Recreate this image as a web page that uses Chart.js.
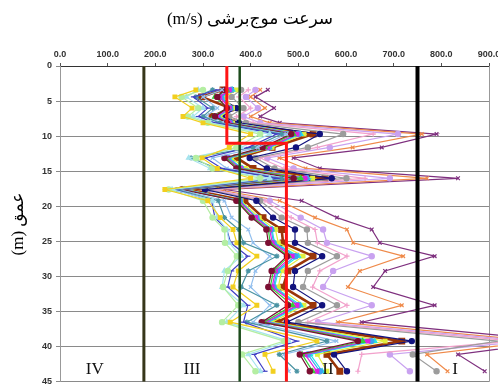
<!DOCTYPE html>
<html>
<head>
<meta charset="utf-8">
<script src="https://cdn.jsdelivr.net/npm/chart.js@4"></script>
<style>
  html, body { margin: 0; padding: 0; background: #fff; }
</style>
</head>
<body>
<canvas id="vsChart" width="498" height="387"></canvas>
<script>
// titles (Persian)
const xTitle = "سرعت موج\u200cبرشی (m/s)";
const yTitle = "عمق (m)";

// depth of every measured point (m)
const depths = [3.4, 4.4, 6.0, 7.2, 8.1, 9.7, 11.6, 13.1, 14.6, 16.0, 17.6, 19.2, 21.6, 23.3, 25.2, 27.1, 29.2, 31.5, 34.1, 36.5, 39.2, 41.1, 43.5];

// shear wave velocity of each borehole (m/s), one value per depth
const vsYellow   = [285, 241, 277, 258, 300, 400, 355, 298, 330, 400, 220, 310, 336, 363, 371, 413, 374, 363, 413, 357, 539, 430, 447];
const vsLgreen   = [300, 255, 290, 268, 310, 420, 370, 285, 320, 420, 228, 300, 320, 345, 346, 371, 352, 342, 374, 340, 470, 382, 410];
const vsLcyan    = [290, 265, 300, 279, 315, 440, 380, 270, 315, 440, 235, 320, 330, 350, 355, 380, 345, 340, 385, 350, 480, 395, 420];
const vsBlue     = [330, 280, 310, 290, 325, 455, 395, 305, 340, 455, 240, 318, 325, 350, 358, 394, 360, 352, 394, 385, 497, 407, 430];
const vsTeal     = [320, 285, 320, 300, 335, 465, 405, 275, 330, 465, 245, 332, 345, 375, 385, 455, 395, 380, 455, 392, 560, 460, 497];
const vsLblue    = [340, 300, 330, 305, 340, 475, 415, 320, 350, 475, 250, 345, 360, 395, 405, 440, 410, 400, 440, 405, 580, 470, 480];
const vsDred     = [345, 330, 350, 325, 350, 485, 425, 345, 370, 490, 255, 370, 402, 433, 437, 476, 444, 437, 478, 423, 625, 503, 524];
const vsGreen    = [350, 325, 352, 322, 352, 490, 430, 348, 374, 505, 256, 372, 405, 437, 441, 480, 448, 441, 488, 428, 635, 508, 530];
const vsMagenta  = [355, 335, 355, 328, 355, 497, 435, 350, 378, 514, 258, 375, 410, 440, 445, 487, 452, 445, 497, 432, 646, 514, 539];
const vsSky      = [358, 338, 357, 330, 357, 500, 438, 352, 380, 517, 260, 377, 412, 443, 448, 494, 455, 448, 500, 435, 653, 520, 545];
const vsCyan     = [362, 340, 358, 332, 358, 505, 440, 355, 382, 520, 262, 378, 413, 445, 450, 500, 458, 450, 505, 438, 660, 525, 550];
const vsYgreen   = [370, 345, 362, 336, 362, 512, 445, 360, 390, 530, 265, 380, 418, 452, 458, 510, 465, 458, 512, 445, 682, 540, 560];
const vsBrown    = [342, 297, 357, 319, 361, 531, 445, 371, 405, 556, 272, 388, 426, 465, 468, 531, 478, 468, 531, 455, 717, 560, 587];
const vsNavy     = [360, 335, 370, 340, 375, 545, 495, 398, 434, 570, 304, 412, 447, 493, 493, 550, 493, 489, 550, 476, 738, 575, 602];
const vsGray     = [380, 360, 385, 355, 390, 594, 520, 410, 450, 601, 310, 420, 465, 518, 520, 581, 520, 510, 581, 500, 920, 740, 790];
const vsPink     = [395, 375, 400, 370, 405, 657, 540, 420, 470, 640, 315, 430, 485, 535, 540, 602, 545, 530, 602, 520, 950, 633, 625];
const vsLavender = [410, 390, 415, 385, 420, 709, 566, 435, 490, 692, 320, 440, 505, 552, 560, 654, 573, 552, 654, 541, 980, 692, 734];
const vsOrange   = [420, 400, 430, 400, 440, 759, 614, 460, 515, 770, 330, 461, 535, 602, 615, 720, 629, 604, 717, 583, 1000, 770, 813];
const vsPurple   = [436, 410, 449, 420, 461, 790, 675, 490, 545, 835, 345, 507, 581, 654, 671, 786, 682, 657, 786, 633, 1050, 835, 891];

// site class boundaries (m/s)
const boundaryIV  = 176;
const boundaryIII = 377;
const boundaryII  = 750;
// mean profile (red step line)
const meanVs    = [350, 350, 475, 475];
const meanDepth = [0, 11, 11, 45];

// zone labels
const zoneLabels = ["IV", "III", "II", "I"];
const zoneVs     = [73, 277, 562, 829];
const zoneDepth  = 43.2;

// series look: [values, colour, marker]
const profiles = [
    [vsYellow, "#f2cf1e", "rect"],
    [vsLgreen, "#b4eea2", "circle"],
    [vsLcyan, "#a6e4ee", "triangle"],
    [vsBlue, "#4040c4", "line"],
    [vsTeal, "#4a93a3", "star"],
    [vsLblue, "#92bfee", "crossRot"],
    [vsDred, "#7c0f33", "circle"],
    [vsGreen, "#34cc3a", "triangle"],
    [vsMagenta, "#e01ee0", "rect"],
    [vsSky, "#3ea2f2", "circle"],
    [vsCyan, "#22e4e4", "triangle"],
    [vsYgreen, "#e2ee3e", "rect"],
    [vsNavy, "#13137e", "circle"],
    [vsGray, "#9c9c9c", "circle"],
    [vsPink, "#f2a2cc", "cross"],
    [vsLavender, "#c9a2f0", "circle"],
    [vsOrange, "#ef8a4a", "crossRot"],
    [vsPurple, "#7e2f7e", "crossRot"],
    [vsBrown, "#9a3508", "rect"]
];

const toPoints = (xs, ys) => xs.map((v, i) => ({ x: v, y: ys[i] }));
const vertical = (v) => [{ x: v, y: 0 }, { x: v, y: 45 }];

const datasets = [];

// boundaries go first so they sit on top
datasets.push({ data: toPoints(meanVs, meanDepth), borderColor: "#ff1414", borderWidth: 3, pointRadius: 0 });
datasets.push({ data: vertical(boundaryII), borderColor: "#000000", borderWidth: 4, pointRadius: 0 });
datasets.push({ data: vertical(boundaryIII), borderColor: "#1c4c1c", borderWidth: 2.5, pointRadius: 0 });
datasets.push({ data: vertical(boundaryIV), borderColor: "#36361a", borderWidth: 3, pointRadius: 0 });

profiles.forEach(p => {
    const isBrown = p[0] === vsBrown;
    datasets.push({
        data: toPoints(p[0], depths),
        borderColor: p[1],
        backgroundColor: p[1],
        borderWidth: isBrown ? 2.6 : 1.2,
        pointStyle: p[2],
        pointRadius: isBrown ? 4 : 2.6,
        pointBorderWidth: 1.2,
        clip: false
    });
});

// extra texts: titles, zone numbers and right frame
const textPlugin = {
    id: "texts",
    beforeDatasetsDraw(chart) {
        const ctx = chart.ctx;
        const a = chart.chartArea;
        ctx.save();
        ctx.strokeStyle = "#999";
        ctx.lineWidth = 1;
        ctx.beginPath();
        ctx.moveTo(a.right + 0.5, a.top);
        ctx.lineTo(a.right + 0.5, a.bottom);
        ctx.stroke();
        ctx.restore();
    },
    afterDatasetsDraw(chart) {
        const ctx = chart.ctx;
        const xs = chart.scales.x;
        const ys = chart.scales.y;
        ctx.save();
        ctx.fillStyle = "#111";
        ctx.textAlign = "center";
        ctx.textBaseline = "middle";
        ctx.font = "17px 'Liberation Serif', serif";
        zoneLabels.forEach((t, i) => {
            ctx.fillText(t, xs.getPixelForValue(zoneVs[i]), ys.getPixelForValue(zoneDepth));
        });
        ctx.fillStyle = "#000";
        ctx.direction = "rtl";
        ctx.font = "17px 'Liberation Serif', 'DejaVu Sans', serif";
        ctx.fillText(xTitle, 250, 20);
        ctx.translate(19, 224);
        ctx.rotate(-Math.PI / 2);
        ctx.fillText(yTitle, 0, 0);
        ctx.restore();
    }
};

const tickFont = { family: "'Liberation Sans', Arial, sans-serif", size: 9, weight: "bold" };

new Chart(document.getElementById("vsChart"), {
    type: "scatter",
    data: { datasets: datasets },
    options: {
        responsive: false,
        animation: false,
        showLine: true,
        layout: { padding: { left: 0, right: 9, top: 0, bottom: 4 } },
        plugins: {
            legend: { display: false },
            tooltip: { enabled: false }
        },
        elements: { line: { tension: 0 } },
        scales: {
            x: {
                type: "linear",
                position: "top",
                min: 0,
                max: 900,
                ticks: {
                    stepSize: 100,
                    padding: 3,
                    color: "#333",
                    font: tickFont,
                    maxRotation: 0,
                    callback: v => v.toFixed(1)
                },
                grid: { drawOnChartArea: false, tickLength: 3, color: "#555" },
                border: { color: "#333", width: 1 },
                afterFit: s => { s.height = 66; s.paddingLeft = 0; s.paddingRight = 0; }
            },
            y: {
                type: "linear",
                reverse: true,
                min: 0,
                max: 45,
                ticks: {
                    stepSize: 5,
                    padding: 4,
                    color: "#333",
                    font: tickFont
                },
                grid: { color: "#8a8a8a", lineWidth: 1, tickLength: 4 },
                border: { color: "#999", width: 1 },
                afterFit: s => { s.width = 60; s.paddingTop = 0; s.paddingBottom = 0; }
            }
        }
    },
    plugins: [textPlugin]
});
</script>
</body>
</html>
